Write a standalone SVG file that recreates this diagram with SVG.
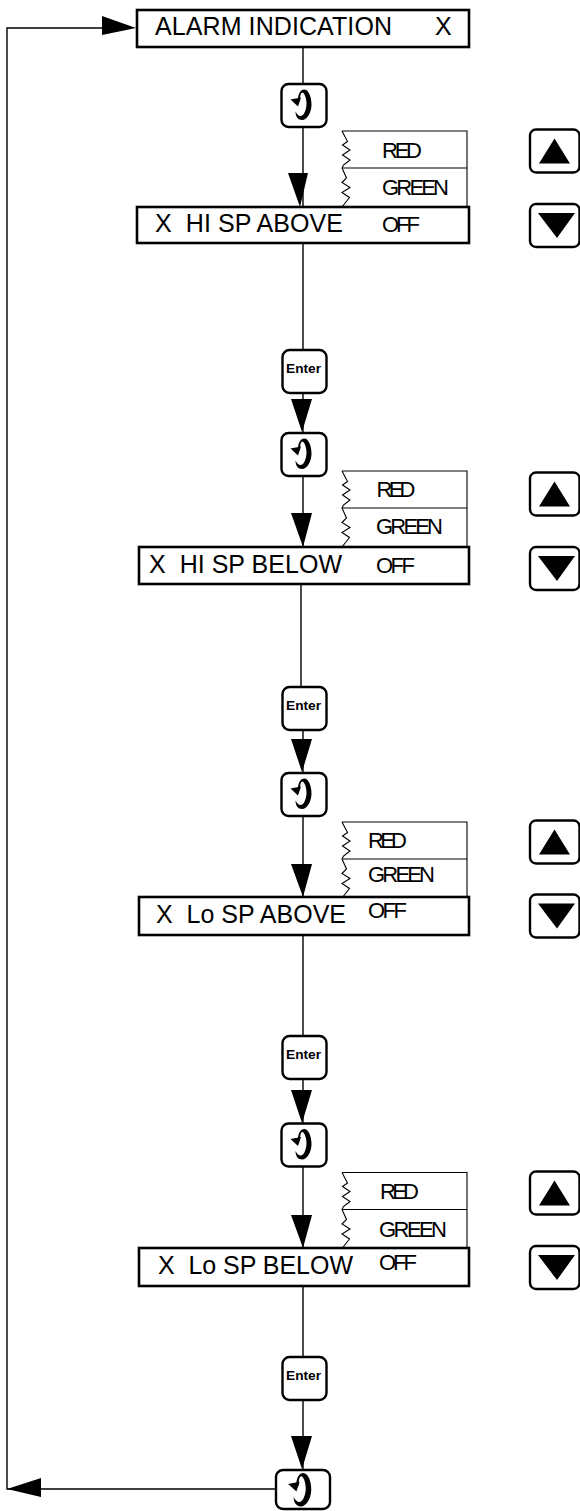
<svg xmlns="http://www.w3.org/2000/svg" width="580" height="1511" viewBox="0 0 580 1511">
<style>
text{font-family:"Liberation Sans",Arial,sans-serif;fill:#000;white-space:pre}
.box{fill:#fff;stroke:#000;stroke-width:2.6}
.key{fill:#fff;stroke:#000;stroke-width:2.4}
.ln{fill:none;stroke:#000;stroke-width:1.4}
.thin{fill:none;stroke:#000;stroke-width:1.1}
.t{font-size:25px}
.s{font-size:22px}
.e{font-size:13.7px;font-weight:bold}
.ah{fill:#000;stroke:none}
</style>
<defs>
<g id="glyph"><path class="ah" d="M-6 -6 C-6 -12 -3 -16 0 -16 C5 -16 7.500 -8 7.500 -1 C7.500 7 3 14.500 -2 14.500 C-6 14.500 -8.500 11 -8.500 6 C-7 9 -5 10.500 -3.500 10.500 C0 10.500 2.500 4 2.500 -2 C2.500 -8 0 -13 -1.500 -13 C-3.500 -13 -4 -9 -4 -4 Z"/><path class="ah" d="M-13.500 -6 L-3 -8 L-6 1 Z"/></g>
<g id="rot"><rect class="key" x="-22.500" y="-21.500" width="45" height="43" rx="7"/><use href="#glyph"/></g>
<g id="ent"><rect class="key" x="-22" y="-21.500" width="44" height="43" rx="7"/><text class="e" x="-1" y="1.500" text-anchor="middle">Enter</text></g>
<g id="up"><rect class="key" x="530" y="0" width="49.500" height="43" rx="6"/><path class="ah" d="M539 34 L554.500 9 L570 34 Z"/></g>
<g id="dn"><rect class="key" x="530" y="0" width="49.500" height="43" rx="6"/><path class="ah" d="M538 9 L575 9 L557 34 Z"/></g>
<g id="opt"><path class="thin" d="M342 0 H467 V76 M342 37 H467"/><path class="thin" d="M342 0 L347.500 10.500 L342.500 14 L350 19 L342.500 24 L350 29 L343.500 34 L342 37 L346.500 47 L342 51.500 L350 56.500 L342 61.500 L349.500 66.500 L342 76"/></g>
</defs>
<g id="connectors">
<path class="ln" d="M303 47 V84 M303 127 V207 M303 243 V350 M303 393 V433 M303 476 V547 M301 584 V687 M303 730 V773 M303 816 V897 M303 935 V1036 M303 1079 V1123 M303 1167 V1248 M303 1286 V1357 M303 1400 V1469"/>
<path class="ln" d="M276 1489 H7 V28 H110"/>
<path class="ah" d="M102 16 L136 28 L102 35 Z"/>
<path class="ah" d="M288 173 L308 173 L300 207 Z"/>
<path class="ah" d="M291 399 L312 399 L302 432 Z"/>
<path class="ah" d="M291 513 L312 513 L303 547 Z"/>
<path class="ah" d="M291 739 L312 739 L302 772 Z"/>
<path class="ah" d="M291 864 L312 864 L303 897 Z"/>
<path class="ah" d="M291 1090 L312 1090 L302 1123 Z"/>
<path class="ah" d="M291 1215 L312 1215 L303 1248 Z"/>
<path class="ah" d="M291 1436 L312 1436 L302 1469 Z"/>
<path class="ah" d="M7 1489 L41 1478 L41 1497 Z"/>
</g>
<g id="n1"><rect class="box" x="137" y="10" width="332" height="37"/><text class="t" x="155" y="35" textLength="237">ALARM INDICATION</text><text class="t" x="435" y="35">X</text></g>
<g id="k1"><use href="#rot" x="304" y="105.500"/></g>
<g id="o1"><use href="#opt" y="131"/><text class="s" x="382" y="158" textLength="40">RED</text><text class="s" x="382" y="195" textLength="67">GREEN</text></g>
<g id="u1"><use href="#up" y="129.500"/></g>
<g id="d1"><use href="#dn" y="204"/></g>
<g id="n2"><rect class="box" x="137" y="207" width="332" height="36"/><text class="t" x="155" y="232" textLength="188">X  HI SP ABOVE</text><text class="s" x="382" y="232" textLength="38">OFF</text></g>
<g id="e1"><use href="#ent" x="304.500" y="371.500"/></g>
<g id="k2"><use href="#rot" x="304" y="454.500"/></g>
<g id="o2"><use href="#opt" y="471"/><text class="s" x="376.500" y="497" textLength="39">RED</text><text class="s" x="376" y="534" textLength="67">GREEN</text></g>
<g id="u2"><use href="#up" y="472.500"/></g>
<g id="d2"><use href="#dn" y="547"/></g>
<g id="n3"><rect class="box" x="139" y="547" width="330" height="37"/><text class="t" x="149" y="573" textLength="193">X  HI SP BELOW</text><text class="s" x="376" y="573" textLength="39">OFF</text></g>
<g id="e2"><use href="#ent" x="304.500" y="708.500"/></g>
<g id="k3"><use href="#rot" x="304" y="794.500"/></g>
<g id="o3"><use href="#opt" y="822"/><text class="s" x="368" y="848" textLength="39">RED</text><text class="s" x="368" y="882" textLength="67">GREEN</text></g>
<g id="u3"><use href="#up" y="820.500"/></g>
<g id="d3"><use href="#dn" y="894.500"/></g>
<g id="n4"><rect class="box" x="139" y="897" width="330" height="38"/><text class="t" x="156" y="923" textLength="190">X  Lo SP ABOVE</text><text class="s" x="368" y="918" textLength="39">OFF</text></g>
<g id="e3"><use href="#ent" x="304.500" y="1057.500"/></g>
<g id="k4"><use href="#rot" x="304" y="1145"/></g>
<g id="o4"><use href="#opt" y="1172.500"/><text class="s" x="380" y="1199" textLength="39">RED</text><text class="s" x="379" y="1237" textLength="68">GREEN</text></g>
<g id="u4"><use href="#up" y="1171.500"/></g>
<g id="d4"><use href="#dn" y="1246"/></g>
<g id="n5"><rect class="box" x="139" y="1248" width="330" height="38"/><text class="t" x="158" y="1274" textLength="195">X  Lo SP BELOW</text><text class="s" x="379" y="1270" textLength="38">OFF</text></g>
<g id="e4"><use href="#ent" x="304.500" y="1378.500"/></g>
<g id="k5"><rect class="key" x="276" y="1470" width="54" height="39" rx="7"/><use href="#glyph" transform="translate(303 1490.500) scale(1.1)"/></g>
</svg>
